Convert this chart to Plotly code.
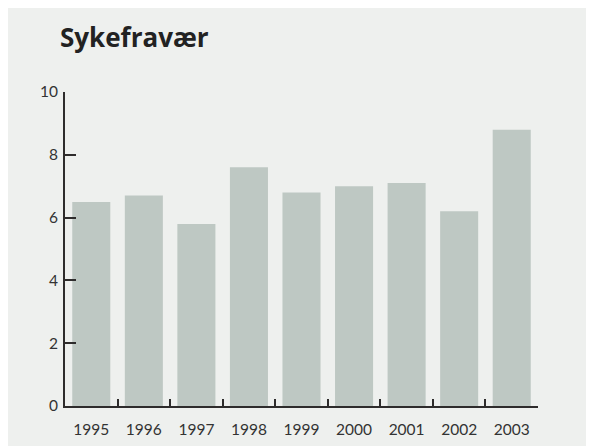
import plotly.graph_objects as go

years = ["1995", "1996", "1997", "1998", "1999", "2000", "2001", "2002", "2003"]
sick_leave = [6.5, 6.7, 5.8, 7.6, 6.8, 7.0, 7.1, 6.2, 8.8]
y_ticks = [0, 2, 4, 6, 8, 10]
title_text = "Sykefravær"

W, H = 620, 446
ML, MR, MT, MB = 57, 90, 84, 48

BG = "#eef0ee"
BAR = "#bec8c3"
AX = "#2e2c2c"
TXT = "#333333"
FONT = "Lato, 'Open Sans', sans-serif"
TFONT = "'Open Sans', Lato, sans-serif"

fig = go.Figure(go.Bar(x=years, y=sick_leave, marker=dict(color=BAR, line=dict(width=0)),
                       hoverinfo="x+y"))

fig.update_layout(
    width=W, height=H,
    margin=dict(l=ML, r=MR, t=MT, b=MB, pad=0),
    paper_bgcolor=BG,
    plot_bgcolor=BG,
    bargap=0.276,
    showlegend=False,
    font=dict(family=FONT, color=TXT, size=15.5),
    title=dict(text="<b>" + title_text + "</b>", font=dict(family=TFONT, size=26, color="#222222"),
               xref="container", yref="container", x=52 / W, xanchor="left",
               y=1 - 29.5 / H, yanchor="middle"),
)

fig.update_xaxes(type="category", tickson="boundaries", ticks="inside", ticklen=7, tickwidth=2,
                 tickcolor=AX, showline=True, linecolor=AX, linewidth=2, showgrid=False,
                 zeroline=False, tickfont=dict(size=15.5, color=TXT), ticklabelstandoff=8,
                 automargin=False)
fig.update_yaxes(range=[0, 10], tickvals=y_ticks, ticks="inside", ticklen=11, tickwidth=2,
                 tickcolor=AX, showline=True, linecolor=AX, linewidth=2, showgrid=False,
                 zeroline=False, tickfont=dict(size=15.5, color=TXT), ticklabelstandoff=2,
                 automargin=False)

fig.write_html("out.html")
